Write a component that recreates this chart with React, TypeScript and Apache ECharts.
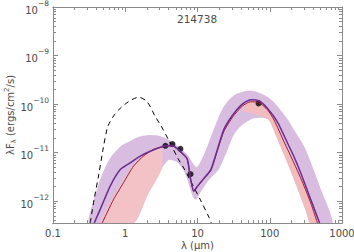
import { useEffect, useRef } from "react";
import * as echarts from "echarts";

// ---- Data (wavelength in micron, flux lambda*F_lambda in ergs/cm^2/s) ----
const objectName = "214738";

const obsLambda = [3.6, 4.5, 5.8, 8.0, 70];
const obsFlux = [1.38e-11, 1.5e-11, 1.2e-11, 3.6e-12, 1.03e-10];

const starLambda = [0.327, 0.372, 0.429, 0.49, 0.562, 0.619, 0.708, 0.807, 1.11, 1.53, 2.0, 2.61, 3.16, 3.98, 5.5, 6.46, 7.94, 11.2, 14.5, 15.5];
const starFlux = [3.55e-13, 1.12e-12, 3.47e-12, 1.12e-11, 3.16e-11, 4.37e-11, 6.03e-11, 7.59e-11, 1.12e-10, 1.38e-10, 1.12e-10, 5.5e-11, 3.47e-11, 1.82e-11, 7.08e-12, 4.79e-12, 2.69e-12, 1.0e-12, 4.57e-13, 3.55e-13];

const bestLambda = [0.372, 0.45, 0.619, 0.853, 1.17, 1.61, 2.22, 3.39, 4.47, 5.81, 7.18, 8.0, 8.89, 10.0, 12.4, 15.3, 18.7, 23.2, 30.9, 41.7, 54.5, 70.8, 93.3, 128, 176, 219, 282, 372, 490];
const bestFlux = [3.55e-13, 6.76e-13, 2.04e-12, 4.47e-12, 6.17e-12, 8.51e-12, 1.07e-11, 1.35e-11, 1.41e-11, 1.05e-11, 7.59e-12, 2.95e-12, 1.62e-12, 2.04e-12, 3.02e-12, 4.47e-12, 1.12e-11, 3.02e-11, 6.03e-11, 1.0e-10, 1.23e-10, 1.17e-10, 8.13e-11, 4.27e-11, 1.58e-11, 7.94e-12, 3.16e-12, 1.05e-12, 3.55e-13];

const redLambda = [0.479, 0.692, 0.946, 1.3, 1.79, 2.47, 3.39, 4.47, 5.81, 7.18, 8.0, 8.89, 10.0, 12.4, 15.3, 18.7, 23.2, 30.9, 41.7, 54.5, 70.8, 93.3, 115, 158, 214, 282, 372, 457];
const redFlux = [3.55e-13, 1.1e-12, 2.4e-12, 5.25e-12, 8.51e-12, 1.17e-11, 1.32e-11, 1.38e-11, 1.02e-11, 7.41e-12, 2.88e-12, 1.58e-12, 2.0e-12, 2.95e-12, 4.27e-12, 1.05e-11, 2.75e-11, 5.5e-11, 9.12e-11, 1.12e-10, 1.07e-10, 7.59e-11, 4.68e-11, 1.66e-11, 6.31e-12, 2.51e-12, 8.91e-13, 3.55e-13];

// envelope of the whole family of fitted models
const bandUpperLambda = [0.316, 0.363, 0.45, 0.562, 0.687, 0.891, 1.17, 1.58, 2.0, 2.82, 3.8, 5.01, 6.31, 7.59, 8.91, 9.77, 10.7, 12.6, 14.4, 17.0, 19.8, 22.9, 26.9, 33.1, 41.7, 52.5, 67.6, 93.3, 117, 141, 178, 219, 302, 398, 525, 741];
const bandUpperFlux = [3.55e-13, 1.0e-12, 2.82e-12, 6.03e-12, 9.55e-12, 1.41e-11, 1.74e-11, 2.14e-11, 2.29e-11, 2.24e-11, 1.9e-11, 1.45e-11, 1.1e-11, 8.32e-12, 5.62e-12, 5.01e-12, 6.03e-12, 1.0e-11, 1.66e-11, 3.16e-11, 5.62e-11, 8.71e-11, 1.2e-10, 1.58e-10, 1.78e-10, 1.91e-10, 1.78e-10, 1.41e-10, 1.05e-10, 7.59e-11, 4.79e-11, 2.88e-11, 1.32e-11, 4.79e-12, 1.58e-12, 3.55e-13];
const bandLowerLambda = [1.32, 2.0, 2.82, 3.98, 5.25, 6.61, 7.76, 8.71, 9.55, 11.2, 14.1, 17.8, 20.0, 25.1, 31.6, 39.8, 57.5, 79.4, 97.7, 126, 158, 200, 251, 316, 363];
const bandLowerFlux = [3.55e-13, 1.26e-12, 3.55e-12, 7.08e-12, 6.31e-12, 3.98e-12, 2.0e-12, 1.2e-12, 1.07e-12, 1.58e-12, 2.63e-12, 3.8e-12, 4.68e-12, 1.0e-11, 2.29e-11, 3.55e-11, 5.01e-11, 5.25e-11, 4.68e-11, 2.0e-11, 8.91e-12, 3.8e-12, 1.58e-12, 6.31e-13, 3.55e-13];

// pink sub-family (near-IR rise)
const pinkNirUpperLambda = [0.46, 0.65, 0.9, 1.25, 1.75, 2.4, 3.2];
const pinkNirUpperFlux = [3.55e-13, 1.1e-12, 2.4e-12, 5.25e-12, 8.51e-12, 1.17e-11, 1.3e-11];
const pinkNirLowerLambda = [1.32, 2.0, 3.2];
const pinkNirLowerFlux = [3.55e-13, 1.26e-12, 4.6e-12];

// pink sub-family (far-IR hump)
const pinkFirUpperLambda = [44, 54.5, 70.8, 93.3, 115, 158, 214, 282, 372, 457];
const pinkFirUpperFlux = [9.5e-11, 1.12e-10, 1.07e-10, 7.59e-11, 4.68e-11, 1.66e-11, 6.31e-12, 2.51e-12, 8.91e-13, 3.55e-13];
const pinkFirLowerLambda = [44, 57.5, 79.4, 97.7, 126, 158, 200, 251, 316, 363];
const pinkFirLowerFlux = [7.0e-11, 6.5e-11, 5.6e-11, 4.68e-11, 2.0e-11, 8.91e-12, 3.8e-12, 1.58e-12, 6.31e-13, 3.55e-13];

// axes
const xTickValues = [0.1, 1, 10, 100, 1000];
const xTickLabels = ["0.1", "1", "10", "100", "1000"];
const yTickExponents = [-12, -11, -10, -9, -8];
const yMinFlux = 3.55e-13;
const yMaxFlux = 1e-8;

const L10 = Math.log10;
const FONT = "DejaVu Sans";
const AXIS_COLOR = "#8a8a8a";
const TEXT_COLOR = "#4a4a4a";

function pairs(lam: number[], flux: number[]) {
  return lam.map((l, i) => [L10(l), L10(flux[i])]);
}

function polygonSeries(upL: number[], upF: number[], loL: number[], loF: number[], color: string) {
  return {
    type: "custom",
    coordinateSystem: "cartesian2d",
    xAxisIndex: 0,
    yAxisIndex: 0,
    silent: true,
    clip: true,
    data: [[0, -10]],
    renderItem: (_params: any, api: any) => {
      const pts: number[][] = [];
      for (let i = 0; i < upL.length; i++) pts.push(api.coord([L10(upL[i]), L10(upF[i])]));
      for (let i = loL.length - 1; i >= 0; i--) pts.push(api.coord([L10(loL[i]), L10(loF[i])]));
      return { type: "polygon", shape: { points: pts, smooth: 0.2 }, style: { fill: color, stroke: null } };
    },
  };
}

export default function App() {
  const ref = useRef<HTMLDivElement>(null);
  useEffect(() => {
    if (!ref.current) return;
    const chart = echarts.init(ref.current, undefined, { renderer: "svg" });

    const xMin = L10(xTickValues[0]);
    const xMax = L10(xTickValues[xTickValues.length - 1]);
    const yMin = L10(yMinFlux);
    const yMax = L10(yMaxFlux);
    const xMajor = xTickValues.map((v) => L10(v));
    const xMinor: number[] = [];
    for (let d = Math.round(xMin); d < Math.round(xMax); d++)
      for (let k = 2; k <= 9; k++) xMinor.push(d + L10(k));
    const yMajor = yTickExponents.slice();
    const yMinor: number[] = [];
    for (let d = -13; d < -8; d++)
      for (let k = 2; k <= 9; k++) {
        const v = d + L10(k);
        if (v >= yMin && v <= yMax) yMinor.push(v);
      }

    const lineStyle = { color: AXIS_COLOR, width: 1 };
    const xBase = {
      type: "value",
      min: xMin,
      max: xMax,
      splitLine: { show: false },
      axisLine: { show: true, onZero: false, lineStyle },
    };
    const yBase = {
      type: "value",
      min: yMin,
      max: yMax,
      splitLine: { show: false },
      axisLine: { show: true, onZero: false, lineStyle },
    };

    chart.setOption({
      animation: false,
      backgroundColor: "#ffffff",
      title: {
        text: objectName,
        left: 177,
        top: 13,
        padding: 0,
        textStyle: { fontFamily: FONT, fontSize: 10.5, fontWeight: "normal", color: TEXT_COLOR },
      },
      grid: { left: 53, right: 12, top: 7, bottom: 29, containLabel: false, outerBoundsMode: "none" },
      xAxis: [
        {
          ...xBase,
          position: "bottom",
          axisTick: { show: true, inside: true, length: 5, customValues: xMajor, lineStyle },
          axisLabel: {
            show: true,
            customValues: xMajor,
            margin: 5,
            fontFamily: FONT,
            fontSize: 10,
            color: TEXT_COLOR,
            formatter: (v: number) => {
              const i = xMajor.findIndex((m) => Math.abs(m - v) < 1e-6);
              return i >= 0 ? xTickLabels[i] : "";
            },
          },
          name: "λ (μm)",
          nameLocation: "middle",
          nameGap: 17,
          nameMoveOverlap: false,
          nameTextStyle: { fontFamily: FONT, fontSize: 10, color: TEXT_COLOR },
        },
        { ...xBase, position: "bottom", axisTick: { show: true, inside: true, length: 3, customValues: xMinor, lineStyle }, axisLabel: { show: false } },
        { ...xBase, position: "top", axisTick: { show: true, inside: true, length: 5, customValues: xMajor, lineStyle }, axisLabel: { show: false } },
        { ...xBase, position: "top", axisTick: { show: true, inside: true, length: 3, customValues: xMinor, lineStyle }, axisLabel: { show: false } },
      ],
      yAxis: [
        {
          ...yBase,
          position: "left",
          axisTick: { show: true, inside: true, length: 5, customValues: yMajor, lineStyle },
          axisLabel: {
            show: true,
            customValues: yMajor,
            margin: 4,
            formatter: (v: number) => "{b|10}{s|−" + String(-Math.round(v)) + "}",
            rich: {
              b: { fontFamily: FONT, fontSize: 10, color: TEXT_COLOR, lineHeight: 16, verticalAlign: "bottom" },
              s: { fontFamily: FONT, fontSize: 7.5, color: TEXT_COLOR, lineHeight: 10, verticalAlign: "top" },
            },
          },
          name: "{n|λF}{sub|λ}{n| (ergs/cm}{sup|2}{n|/s)}",
          nameLocation: "middle",
          nameGap: 36,
          nameMoveOverlap: false,
          nameTextStyle: {
            fontFamily: FONT,
            fontSize: 10,
            color: TEXT_COLOR,
            rich: {
              n: { fontFamily: FONT, fontSize: 10, color: TEXT_COLOR, lineHeight: 14, verticalAlign: "middle" },
              sub: { fontFamily: FONT, fontSize: 7, color: TEXT_COLOR, lineHeight: 14, verticalAlign: "bottom" },
              sup: { fontFamily: FONT, fontSize: 7, color: TEXT_COLOR, lineHeight: 14, verticalAlign: "top" },
            },
          },
        },
        { ...yBase, position: "left", axisTick: { show: true, inside: true, length: 3, customValues: yMinor, lineStyle }, axisLabel: { show: false } },
        { ...yBase, position: "right", axisTick: { show: true, inside: true, length: 5, customValues: yMajor, lineStyle }, axisLabel: { show: false } },
        { ...yBase, position: "right", axisTick: { show: true, inside: true, length: 3, customValues: yMinor, lineStyle }, axisLabel: { show: false } },
      ],
      series: [
        polygonSeries(bandUpperLambda, bandUpperFlux, bandLowerLambda, bandLowerFlux, "#d8bde0"),
        polygonSeries(pinkNirUpperLambda, pinkNirUpperFlux, pinkNirLowerLambda, pinkNirLowerFlux, "#f2c2c6"),
        polygonSeries(pinkFirUpperLambda, pinkFirUpperFlux, pinkFirLowerLambda, pinkFirLowerFlux, "#f3bcbc"),
        {
          type: "line",
          data: pairs(starLambda, starFlux),
          showSymbol: false,
          smooth: 0.3,
          lineStyle: { color: "#000000", width: 1, type: [5, 4] },
          silent: true,
          clip: true,
        },
        {
          type: "line",
          data: pairs(redLambda, redFlux),
          showSymbol: false,
          smooth: 0.2,
          lineStyle: { color: "#a3172f", width: 1 },
          silent: true,
          clip: true,
        },
        {
          type: "line",
          data: pairs(bestLambda, bestFlux),
          showSymbol: false,
          smooth: 0.2,
          lineStyle: { color: "#6a2d8f", width: 1.5 },
          silent: true,
          clip: true,
        },
        {
          type: "scatter",
          data: pairs(obsLambda, obsFlux),
          symbol: "circle",
          symbolSize: 6,
          itemStyle: { color: "#000000" },
          silent: true,
        },
      ],
    });
    return () => chart.dispose();
  }, []);

  return (
    <div
      ref={ref}
      style={{ position: "fixed", left: 0, top: 0, width: 354, height: 252, background: "#fff" }}
    />
  );
}
